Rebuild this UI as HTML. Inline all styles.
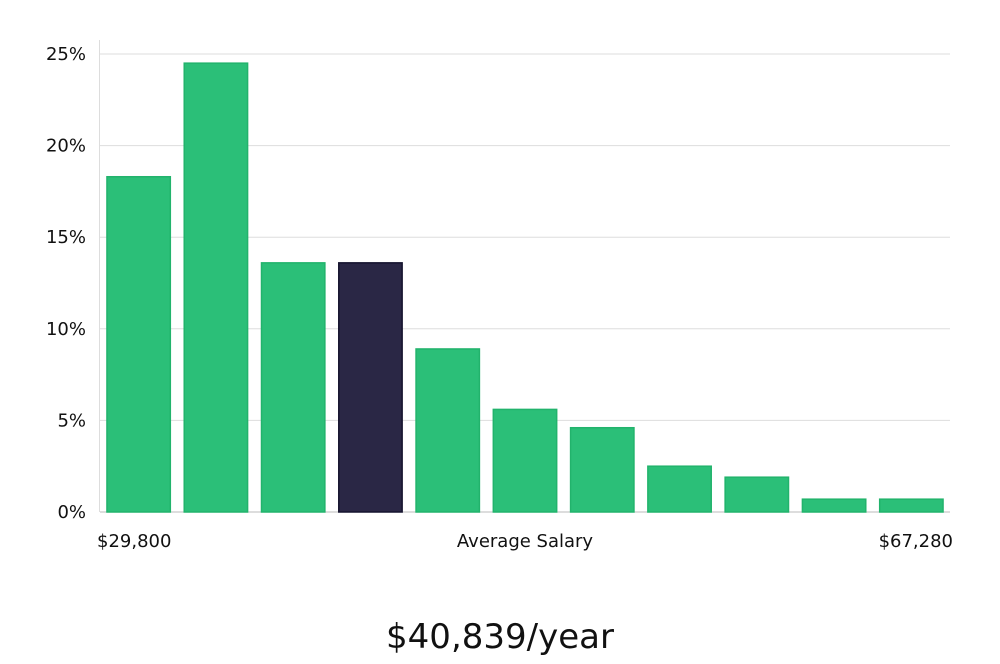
<!DOCTYPE html>
<html><head><meta charset="utf-8"><style>
body{margin:0;background:#fff;width:1000px;height:660px;overflow:hidden;font-family:"DejaVu Sans","Liberation Sans",sans-serif;}
</style></head><body>
<svg width="1000" height="660" xmlns="http://www.w3.org/2000/svg">
<g id="grid"></g><g id="bars"></g><g id="labels"></g>
<text x="500" y="648" text-anchor="middle" font-size="34" fill="#111" font-family="DejaVu Sans, sans-serif">$40,839/year</text>
</svg>
<script>
const categories=["b1","b2","b3","b4","b5","b6","b7","b8","b9","b10","b11"];
const values=[18.3,24.5,13.6,13.6,8.9,5.6,4.6,2.5,1.9,0.7,0.7];
const highlight=[false,false,false,true,false,false,false,false,false,false,false];
const yTicks=[0,5,10,15,20,25];
const xLabels=["$29,800","Average Salary","$67,280"];
const NS="http://www.w3.org/2000/svg";
const x0=100,x1=950,y0=512,pxPerPct=18.32;
const y=v=>y0-v*pxPerPct;
const band=(x1-x0)/categories.length;
const bx=i=>x0+i*band+band*0.09;
const bw=band*0.82;
function mk(t,a,p){const e=document.createElementNS(NS,t);for(const k in a)e.setAttribute(k,a[k]);p.appendChild(e);return e;}
const g=document.getElementById('grid'),b=document.getElementById('bars'),l=document.getElementById('labels');
yTicks.forEach(t=>{
 const ln=mk('line',{x1:x0,x2:x1,y1:y(t),y2:y(t),stroke:t===0?'#bbb':'#ddd','stroke-width':1},g);
 
 
 const tx=mk('text',{x:86,y:y(t)+6,'text-anchor':'end','font-size':18,fill:'#111'},l);
 tx.textContent=t+'%';
 
 
});
const ax=mk('line',{x1:99.5,x2:99.5,y1:40,y2:y0,stroke:'#ddd'},g);


values.forEach((v,i)=>{
 const r=mk('rect',{x:bx(i),y:y(v),width:bw,height:y0-y(v),fill:highlight[i]?'#2a2745':'#2bbf78',stroke:highlight[i]?'#15132e':'#22b36c','stroke-width':1.5},b);
 
 
});
const pos=[[97,'start'],[525,'middle'],[953,'end']];
xLabels.forEach((s,i)=>{
 const t=mk('text',{x:pos[i][0],y:547,'text-anchor':pos[i][1],'font-size':18,fill:'#111'},l);
 t.textContent=s;
 
 
});
</script>
</body></html>
